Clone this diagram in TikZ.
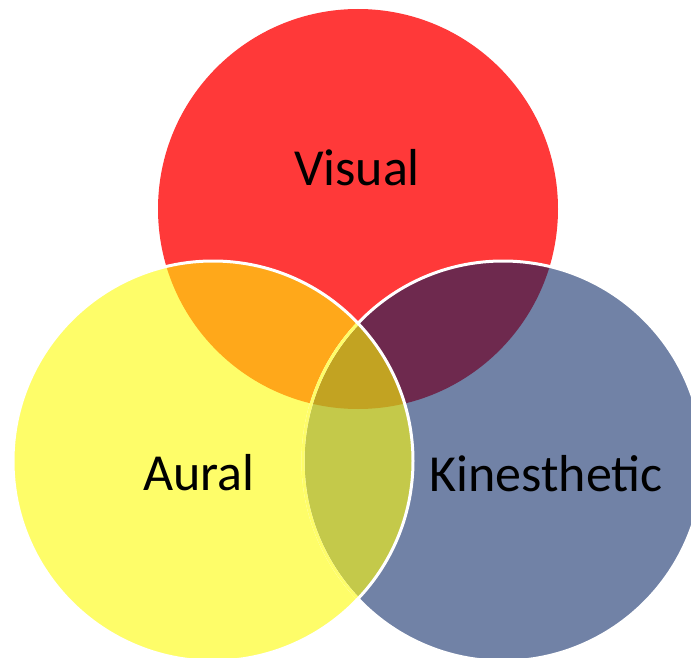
\documentclass[tikz,border=0pt]{standalone}
\usepackage{fontspec}
\setmainfont{Carlito}
\definecolor{cred}{HTML}{FF3939}
\definecolor{cyel}{HTML}{FEFD69}
\definecolor{cblu}{HTML}{7182A6}
\definecolor{corg}{HTML}{FFA81A}
\definecolor{cmar}{HTML}{6E294E}
\definecolor{coli}{HTML}{C4C94A}
\definecolor{ctri}{HTML}{C2A322}
\tikzset{
  lbl/.style={font=\fontsize{52}{60}\selectfont, text=black, inner sep=0pt},
  rim/.style={draw=white, line width=3pt}
}
\begin{document}
\begin{tikzpicture}[x=1pt,y=-1pt]
\useasboundingbox (0,0) rectangle (691,658);
\clip (0,0) rectangle (691,658);
\coordinate (R) at (358,209);
\coordinate (Y) at (213,461);
\coordinate (B) at (503,461);
% base circles
\fill[cred] (R) circle (200pt);
\fill[cyel] (Y) circle (200pt);
\fill[cblu] (B) circle (200pt);
% pairwise overlaps
\begin{scope}
  \clip (R) circle (200pt);
  \fill[corg] (Y) circle (200pt);
  \fill[cmar] (B) circle (200pt);
\end{scope}
\begin{scope}
  \clip (Y) circle (200pt);
  \fill[coli] (B) circle (200pt);
  \clip (B) circle (200pt);
  \fill[ctri] (R) circle (200pt);
\end{scope}
% outlines
\draw[rim] (B) circle (200pt);
\begin{scope}
  \clip (Y) circle (200pt);
  \draw[draw=cyel, line width=3pt] (B) circle (200pt);
\end{scope}
\draw[rim] (Y) circle (200pt);
% labels
\node[lbl] (visual) at (357,168) {Visual};
\node[lbl] (aural) at (199,473) {Aural};
\node[lbl] (kin) at (546,474) {Kinesthetic};
\end{tikzpicture}
\end{document}
